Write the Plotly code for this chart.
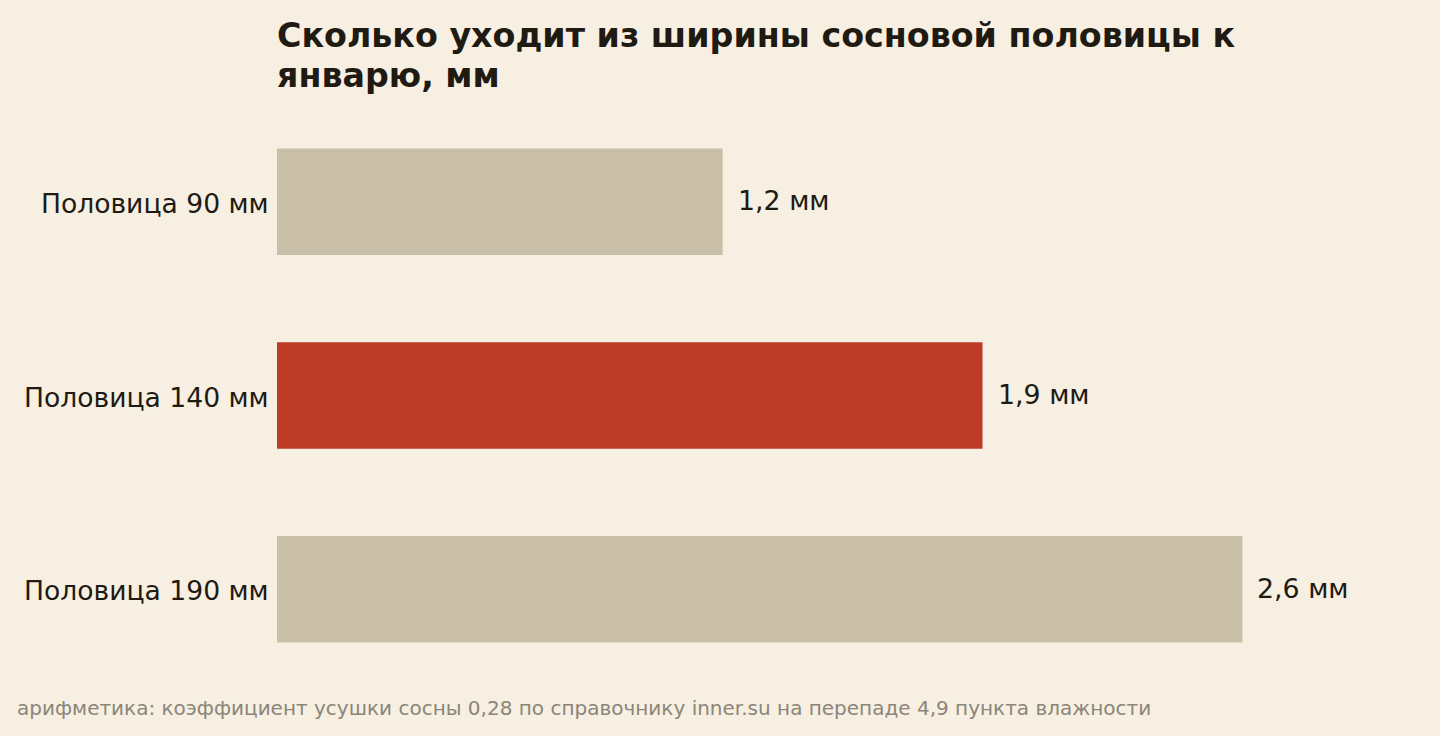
import plotly.graph_objects as go

categories = ["Половица 90 мм", "Половица 140 мм", "Половица 190 мм"]
values = [1.2, 1.9, 2.6]
value_labels = ["1,2 мм", "1,9 мм", "2,6 мм"]
bar_colors = ["#C9BFA8", "#BC3C27", "#C9BFA8"]

title_lines = ["Сколько уходит из ширины сосновой половицы к", "январю, мм"]
note_text = "арифметика: коэффициент усушки сосны 0,28 по справочнику inner.su на перепаде 4,9 пункта влажности"

BG = "#F6EFE2"
INK = "#1F1A12"
FONT = "DejaVu Sans"

L, R, T, B = 277, 49, 105, 50
PW = 1440 - L - R

fig = go.Figure(
    go.Bar(
        y=categories,
        x=values,
        orientation="h",
        marker=dict(color=bar_colors, line=dict(width=0)),
        cliponaxis=False,
        hoverinfo="skip",
    )
)

annotations = [
    dict(
        text=lab,
        x=v,
        y=c,
        xref="x",
        yref="y",
        xanchor="left",
        yanchor="middle",
        xshift=13,
        yshift=1,
        showarrow=False,
        font=dict(family=FONT, size=26.8, color=INK),
    )
    for c, v, lab in zip(categories, values, value_labels)
]

for i, line in enumerate(title_lines):
    annotations.append(
        dict(
            text="<b>" + line + "</b>",
            xref="paper",
            yref="paper",
            x=0,
            xanchor="left",
            xshift=-2,
            y=1,
            yanchor="bottom",
            yshift=8 + 40 * (len(title_lines) - 1 - i),
            align="left",
            showarrow=False,
            font=dict(family=FONT, size=33.3, color=INK),
        )
    )

annotations.append(
    dict(
        text=note_text,
        xref="paper",
        yref="paper",
        x=-(L - 15) / PW,
        xanchor="left",
        y=0,
        yshift=-22,
        yanchor="middle",
        showarrow=False,
        font=dict(family=FONT, size=20, color="#8C8579"),
    )
)

fig.update_layout(
    width=1440,
    height=736,
    paper_bgcolor=BG,
    plot_bgcolor=BG,
    margin=dict(l=L, r=R, t=T, b=B),
    bargap=0.45,
    showlegend=False,
    font=dict(family=FONT, color=INK),
    xaxis=dict(
        range=[0, 3.0],
        showgrid=False,
        zeroline=False,
        showticklabels=False,
        showline=False,
        ticks="",
        fixedrange=True,
    ),
    yaxis=dict(
        autorange="reversed",
        showgrid=False,
        zeroline=False,
        showline=False,
        ticks="outside",
        ticklen=2,
        tickcolor="rgba(0,0,0,0)",
        ticklabelshift=-2,
        tickfont=dict(family=FONT, size=26.6, color=INK),
        fixedrange=True,
    ),
    annotations=annotations,
)

fig.write_html("out.html", config={"displayModeBar": False, "staticPlot": True})

with open("out.html", "r", encoding="utf-8") as f:
    html = f.read()
html = html.replace("<head>", "<head><style>html,body{margin:0;padding:0;background:%s;overflow:hidden;}</style>" % BG, 1)
with open("out.html", "w", encoding="utf-8") as f:
    f.write(html)
